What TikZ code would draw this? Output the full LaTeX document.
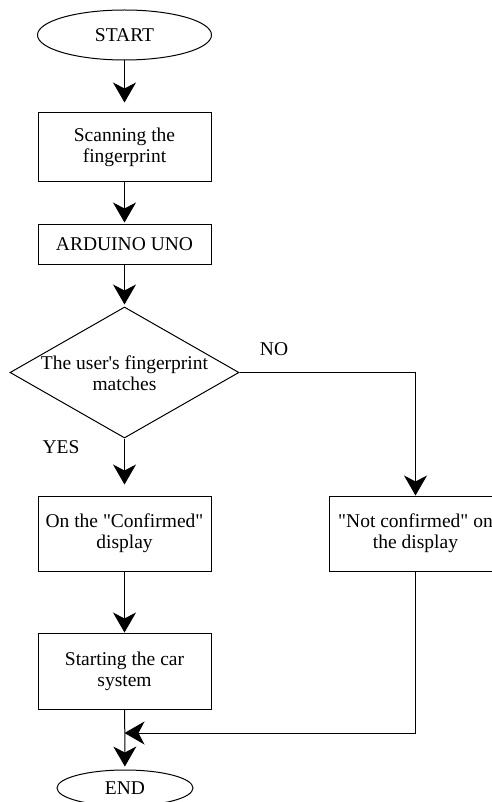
\documentclass[tikz,border=0pt]{standalone}
\usepackage{fontspec}
\setmainfont{Liberation Serif}[Ligatures=TeXOff]
\usetikzlibrary{shapes.geometric,arrows.meta}
\begin{document}
\begin{tikzpicture}[x=1pt,y=-1pt,
  every node/.style={font=\fontsize{19.5}{21}\selectfont, align=center, inner sep=0pt},
  procbox/.style={draw, line width=1pt, minimum width=173pt},
  term/.style={draw, line width=1pt, ellipse},
  lbl/.style={},
  conn/.style={line width=1pt, -{Stealth[length=20pt,width=23pt,inset=6pt]}},
  plain/.style={line width=1pt}]
\useasboundingbox (0,0) rectangle (491,802);
\node[term, minimum width=174pt, minimum height=50pt] (start) at (124.5,35) {START};
\node[procbox, minimum height=69pt] (scan) at (124.5,147.5) {Scanning the\\fingerprint};
\node[procbox, minimum height=39pt] (ard) at (124.5,244.5) {ARDUINO UNO};
\node[draw, line width=1pt, diamond, minimum width=229pt, minimum height=131pt] (dec) at (124.5,372.5) {};
\node (dect) at (124.5,373) {The user's fingerprint\\matches};
\node[procbox, minimum height=75pt] (conf) at (124.5,533.5) {On the "Confirmed"\\display};
\node[procbox, minimum height=75pt] (nconf) at (415.5,533.5) {"Not confirmed" on\\the display};
\node[procbox, minimum height=76pt] (car) at (124.5,671) {Starting the car\\system};
\node[term, minimum width=136pt, minimum height=36pt] (end) at (125,788) {END};
\node[lbl] (no) at (274,349) {NO};
\node[lbl] (yes) at (61,447) {YES};
\coordinate (nocorner) at (415.5,372.5);
\coordinate (joinr) at (415.5,733);
\coordinate (joinl) at (124.5,733);
\draw[conn, shorten >=10pt] (start) -- (scan);
\draw[conn, shorten >=2pt] (scan) -- (ard);
\draw[conn, shorten >=2pt] (ard) -- (dec);
\draw[conn, shorten >=11pt] (dec.south) -- (conf);
\draw[conn] (dec.east) -- (nocorner) -- (nconf);
\draw[conn] (conf) -- (car);
\draw[conn, shorten >=3pt] (car) -- (end);
\draw[conn] (nconf) -- (joinr) -- (joinl);
\end{tikzpicture}
\end{document}
